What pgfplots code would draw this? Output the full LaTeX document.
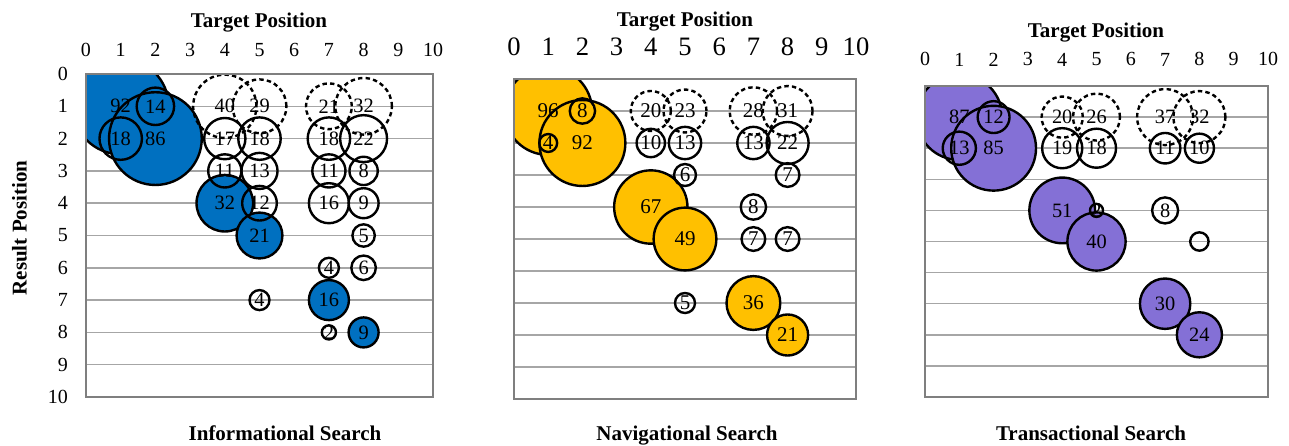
\documentclass[border=0pt]{standalone}
\usepackage{fontspec}
\setmainfont{Liberation Serif}
\usepackage{pgfplots}
\pgfplotsset{compat=1.18}
\definecolor{infoblue}{HTML}{0070C0}
\definecolor{navyellow}{HTML}{FFC000}
\definecolor{transpurple}{HTML}{8470D6}
\definecolor{gridgray}{HTML}{A6A6A6}
\definecolor{framegray}{HTML}{7F7F7F}
\pgfplotsset{
  common/.style={scale only axis, anchor=north west,
    xmin=0, xmax=10, ymin=0, ymax=10, y dir=reverse,
    xtick={0,...,10}, ytick={0,...,10}, major tick length=0pt,
    xticklabel pos=upper,
    ymajorgrids, grid style={draw=gridgray, line width=0.75pt},
    axis line style={draw=framegray, line width=1.4pt},
    clip marker paths=true,
    /pgf/number format/assume math mode=true},
  bub/.style={only marks, point meta=explicit,
    visualization depends on={#1*sqrt(\thisrow{v}) \as \msize},
    scatter/@pre marker code/.append style={/tikz/mark size=\msize}},
  filled/.style={scatter, mark=*, scatter/use mapped color={draw=black, fill=#1}, mark options={line width=1.2pt}},
  openc/.style={scatter, mark=o, scatter/use mapped color={draw=black}, mark options={line width=1.2pt}},
  dashc/.style={scatter, mark=o, scatter/use mapped color={draw=black}, mark options={line width=1.2pt, dash pattern=on 2.2pt off 1.6pt}},
  labs/.style={only marks, mark=none, point meta=explicit, nodes near coords,
    every node near coord/.style={anchor=center, inner sep=0pt, text=black, font=\fontsize{#1}{#1}\selectfont}},
}
\begin{document}
\begin{tikzpicture}
\useasboundingbox (0,0) rectangle (644.5pt,-222.5pt);

% ---------------- Informational ----------------
\begin{axis}[common, name=ax1, at={(43pt,-37pt)}, width=173.5pt, height=161.5pt,
  xticklabel style={font=\fontsize{10}{12}\selectfont, yshift=5pt},
  yticklabel style={font=\fontsize{10}{12}\selectfont, xshift=-5.5pt}]
\addplot[filled=infoblue, bub=2.5] table[meta=v] {
x y v
1 1 92
2 2 86
4 4 32
5 5 21
7 7 16
8 8 9
};
\addplot[openc, bub=2.5] table[meta=v] {
x y v
2 1 14
1 2 18
4 2 17
5 2 18
7 2 18
8 2 22
4 3 11
5 3 13
7 3 11
8 3 8
5 4 12
7 4 16
8 4 9
8 5 5
7 6 4
8 6 6
5 7 4
7 8 2
};
\addplot[dashc, bub=2.5] table[meta=v] {
x y v
4 1 40
5 1 29
7 1 21
8 1 32
};
\addplot[labs=10.2] table[meta=v] {
x y v
1 1 92
2 2 86
4 4 32
5 5 21
7 7 16
8 8 9
2 1 14
1 2 18
4 2 17
5 2 18
7 2 18
8 2 22
4 3 11
5 3 13
7 3 11
8 3 8
5 4 12
7 4 16
8 4 9
8 5 5
7 6 4
8 6 6
5 7 4
7 8 2
4 1 40
5 1 29
7 1 21
8 1 32
};
\end{axis}
\draw[framegray, line width=1.4pt] (ax1.south west) rectangle (ax1.north east);

% ---------------- Navigational ----------------
\begin{axis}[common, name=ax2, at={(257pt,-39.5pt)}, width=171pt, height=160pt,
  xticklabel style={font=\fontsize{13.3}{15}\selectfont, yshift=8pt},
  yticklabels={}]
\addplot[filled=navyellow, bub=2.24] table[meta=v] {
x y v
1 1 96
2 2 92
4 4 67
5 5 49
7 7 36
8 8 21
};
\addplot[openc, bub=2.24] table[meta=v] {
x y v
2 1 8
1 2 4
4 2 10
5 2 13
7 2 13
8 2 22
5 3 6
8 3 7
7 4 8
7 5 7
8 5 7
5 7 5
};
\addplot[dashc, bub=2.24] table[meta=v] {
x y v
4 1 20
5 1 23
7 1 28
8 1 31
};
\addplot[labs=10.5] table[meta=v] {
x y v
1 1 96
2 2 92
4 4 67
5 5 49
7 7 36
8 8 21
2 1 8
1 2 4
4 2 10
5 2 13
7 2 13
8 2 22
5 3 6
8 3 7
7 4 8
7 5 7
8 5 7
5 7 5
4 1 20
5 1 23
7 1 28
8 1 31
};
\end{axis}
\draw[framegray, line width=1.4pt] (ax2.south west) rectangle (ax2.north east);

% ---------------- Transactional ----------------
\begin{axis}[common, name=ax3, at={(462.5pt,-43pt)}, width=171.5pt, height=155.5pt,
  xticklabel style={font=\fontsize{10}{12}\selectfont, yshift=6.4pt},
  yticklabels={}]
\addplot[filled=transpurple, bub=2.3] table[meta=v] {
x y v
1 1 87
2 2 85
4 4 51
5 5 40
7 7 30
8 8 24
};
\addplot[openc, bub=2.3] table[meta=v] {
x y v
2 1 12
1 2 13
4 2 19
5 2 18
7 2 11
8 2 10
5 4 2
7 4 8
8 5 4
};
\addplot[dashc, bub=2.3] table[meta=v] {
x y v
4 1 20
5 1 26
7 1 37
8 1 32
};
\addplot[labs=10.2] table[meta=v] {
x y v
1 1 87
2 2 85
4 4 51
5 5 40
7 7 30
8 8 24
2 1 12
1 2 13
4 2 19
5 2 18
7 2 11
8 2 10
5 4 2
7 4 8
4 1 20
5 1 26
7 1 37
8 1 32
};
\end{axis}
\draw[framegray, line width=1.4pt] (ax3.south west) rectangle (ax3.north east);

% ---------------- texts ----------------
\begin{scope}[every node/.style={font=\fontsize{10.5}{12}\selectfont\bfseries, inner sep=0pt, anchor=base}]
\node at (129.5pt,-13.7pt) {Target Position};
\node at (342.5pt,-13.3pt) {Target Position};
\node at (548pt,-18.7pt) {Target Position};
\node at (142.5pt,-220pt) {Informational Search};
\node at (343.5pt,-220pt) {Navigational Search};
\node at (545.5pt,-220pt) {Transactional Search};
\node[rotate=90] at (13.3pt,-114pt) {Result Position};
\end{scope}
\end{tikzpicture}
\end{document}
